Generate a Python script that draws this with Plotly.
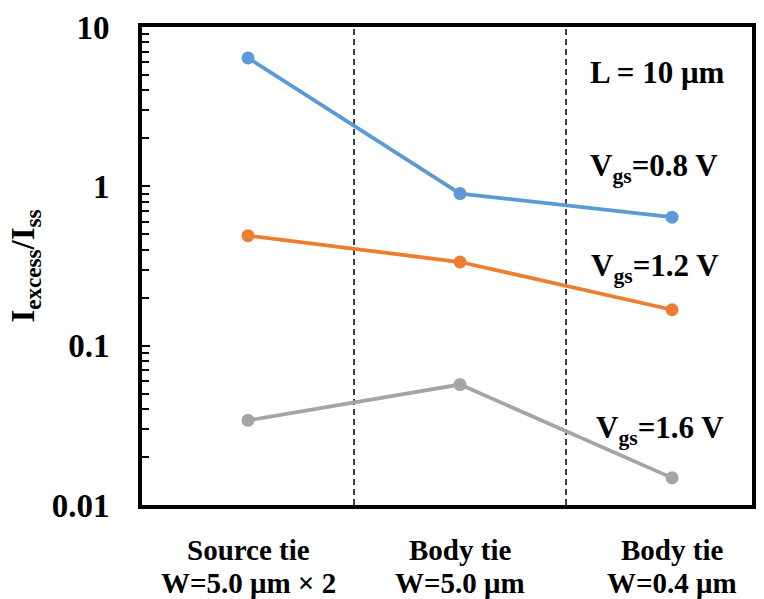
import plotly.graph_objects as go

cat_line1 = ["Source tie", "Body tie", "Body tie"]
cat_line2 = ["W=5.0 μm × 2", "W=5.0 μm", "W=0.4 μm"]
vgs_08 = [6.4, 0.90, 0.64]
vgs_12 = [0.49, 0.335, 0.168]
vgs_16 = [0.034, 0.057, 0.0148]
series_names = ["V<sub>gs</sub>=0.8 V", "V<sub>gs</sub>=1.2 V", "V<sub>gs</sub>=1.6 V"]
colors = ["#5B9BD5", "#ED7D31", "#A5A5A5"]
y_major = [0.01, 0.1, 1, 10]
y_major_text = ["0.01", "0.1", "1", "10"]

xpos = [0, 1, 2]
font_family = "Liberation Serif, Times New Roman, serif"

fig = go.Figure()
for vals, name, c in zip([vgs_08, vgs_12, vgs_16], series_names, colors):
    fig.add_trace(go.Scatter(x=xpos, y=vals, mode="lines+markers", name=name,
                             line=dict(color=c, width=3.8),
                             marker=dict(color=c, size=13)))

# Minor log tick positions (2..9 in each decade)
minor_vals = [d * m for d in y_major[:-1] for m in range(2, 10)]

PLOT_TOP, PLOT_BOTTOM = 27, 505

fig.update_layout(
    width=764, height=599,
    margin=dict(l=142, r=12, t=PLOT_TOP, b=599 - PLOT_BOTTOM),
    paper_bgcolor="white", plot_bgcolor="white",
    showlegend=False,
    font=dict(family=font_family, color="black"),
    xaxis=dict(range=[-0.5, 2.377], tickvals=xpos, showticklabels=False,
               ticks="", showgrid=False, zeroline=False, automargin=False,
               showline=True, linecolor="black", linewidth=4, mirror=True),
    yaxis=dict(type="log", range=[-2, 1], tickvals=y_major,
               ticktext=["<b>%s</b>" % t for t in y_major_text],
               tickfont=dict(size=33, family=font_family), automargin=False,
               ticks="inside", ticklen=8, tickwidth=2.2, tickcolor="black",
               minor=dict(tickvals=minor_vals, ticks="inside", ticklen=7,
                          tickwidth=2.2, tickcolor="black", showgrid=False),
               showgrid=False, zeroline=False,
               showline=True, linecolor="black", linewidth=4, mirror=True,
               ticklabelstandoff=22,
               title=dict(text="<b>I<sub>excess</sub>/I<sub>ss</sub></b>",
                          font=dict(size=33, family=font_family), standoff=8)),
)

def ypaper(px):
    return 1 - (px - PLOT_TOP) / (PLOT_BOTTOM - PLOT_TOP)

# Category labels (two lines each)
for xv, l1, l2 in zip(xpos, cat_line1, cat_line2):
    fig.add_annotation(text="<b>%s</b>" % l1, x=xv, xref="x", y=ypaper(550), yref="paper",
                       showarrow=False, font=dict(size=29, family=font_family, color="black"),
                       xanchor="center", yanchor="middle")
    fig.add_annotation(text="<b>%s</b>" % l2, x=xv, xref="x", y=ypaper(583), yref="paper",
                       showarrow=False, font=dict(size=29, family=font_family, color="black"),
                       xanchor="center", yanchor="middle")

for xv in [0.5, 1.5]:
    fig.add_shape(type="line", x0=xv, x1=xv, y0=0, y1=1, xref="x", yref="paper",
                  line=dict(color="black", width=1.5, dash="6px,4px"), layer="below")

ann = [("<b>L = 10 μm</b>", 1.93, 72),
       ("<b>" + series_names[0] + "</b>", 1.915, 168),
       ("<b>" + series_names[1] + "</b>", 1.92, 268),
       ("<b>" + series_names[2] + "</b>", 1.943, 430)]
for text, xv, ypx in ann:
    fig.add_annotation(text=text, x=xv, xref="x", y=ypaper(ypx), yref="paper",
                       showarrow=False, font=dict(size=31, family=font_family, color="black"),
                       xanchor="center", yanchor="middle")

fig.write_html("out.html", config={"displayModeBar": False},
               post_script="document.body.style.margin='0';document.body.style.overflow='hidden';")
